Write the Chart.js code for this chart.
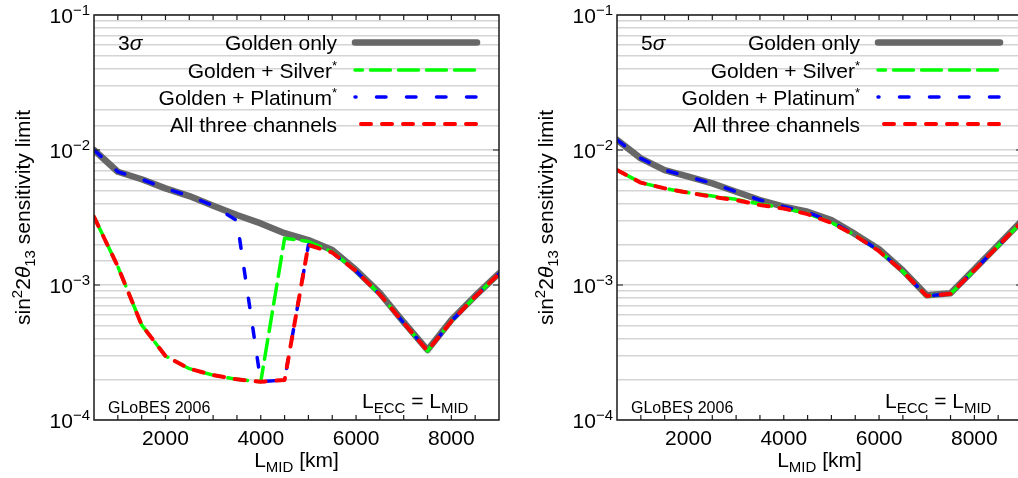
<!DOCTYPE html>
<html><head><meta charset="utf-8">
<script src="https://cdn.jsdelivr.net/npm/chart.js@4"></script>
<style>
html,body{margin:0;padding:0;background:#fff;overflow:hidden;width:1018px;height:478px}
#wrap{position:relative;width:1018px;height:478px;overflow:hidden;background:#fff}
canvas{position:absolute;top:0}
#c1{left:0}
#c2{left:523px}
</style></head><body>
<div id="wrap"><canvas id="c1" width="510" height="478"></canvas><canvas id="c2" width="510" height="478"></canvas></div>
<script>
// ---- data ----
const baselineKm = [500,1000,1500,2000,2500,3000,3500,4000,4500,5000,5500,6000,6500,7000,7500,8000,8500,9000];
const xTickLabels = [2000,4000,6000,8000];
const yTickDecades = [-4,-3,-2,-1];
const seriesNames = ['Golden only','Golden + Silver','Golden + Platinum','All three channels'];

// 3 sigma panel
const golden3   = [1.0e-2,6.9e-3,6.07e-3,5.2e-3,4.56e-3,3.87e-3,3.3e-3,2.86e-3,2.42e-3,2.15e-3,1.82e-3,1.29e-3,8.7e-4,5.3e-4,3.3e-4,5.5e-4,8.3e-4,1.22e-3];
const silver3   = [3.2e-3,1.37e-3,5.06e-4,2.98e-4,2.4e-4,2.15e-4,2.0e-4,1.92e-4,2.22e-3,2.1e-3,1.76e-3,1.27e-3,8.5e-4,5.25e-4,3.25e-4,5.4e-4,8.2e-4,1.21e-3];
const platinum3 = [1.0e-2,6.9e-3,6.07e-3,5.2e-3,4.56e-3,3.87e-3,3.0e-3,1.92e-4,1.98e-4,1.98e-3,1.74e-3,1.27e-3,8.5e-4,5.25e-4,3.25e-4,5.4e-4,8.2e-4,1.21e-3];
const allThree3 = [3.2e-3,1.37e-3,5.06e-4,2.98e-4,2.4e-4,2.15e-4,2.0e-4,1.92e-4,1.98e-4,1.98e-3,1.74e-3,1.27e-3,8.5e-4,5.25e-4,3.25e-4,5.4e-4,8.2e-4,1.21e-3];

// 5 sigma panel
const golden5   = [1.19e-2,8.67e-3,7.1e-3,6.34e-3,5.66e-3,4.91e-3,4.26e-3,3.8e-3,3.49e-3,3.03e-3,2.38e-3,1.84e-3,1.28e-3,8.4e-4,8.7e-4,1.31e-3,1.98e-3,3.0e-3];
const silver5   = [7.1e-3,5.73e-3,5.2e-3,4.83e-3,4.56e-3,4.31e-3,3.98e-3,3.72e-3,3.38e-3,2.9e-3,2.34e-3,1.8e-3,1.26e-3,8.3e-4,8.6e-4,1.29e-3,1.95e-3,2.95e-3];
const platinum5 = [1.19e-2,8.67e-3,7.1e-3,6.34e-3,5.66e-3,4.91e-3,4.26e-3,3.8e-3,3.45e-3,2.95e-3,2.34e-3,1.8e-3,1.26e-3,8.3e-4,8.6e-4,1.29e-3,1.95e-3,2.95e-3];
const allThree5 = [7.1e-3,5.73e-3,5.2e-3,4.83e-3,4.5e-3,4.25e-3,3.92e-3,3.68e-3,3.35e-3,2.88e-3,2.33e-3,1.78e-3,1.26e-3,8.3e-4,8.6e-4,1.29e-3,1.95e-3,2.95e-3];

const FONT = '"Liberation Sans", Arial, Helvetica, sans-serif';

function styleFor(i){
  return [
    {borderColor:'#676767', borderWidth:6.5, borderDash:[], legendOffset:0, order:4},
    {borderColor:'#00ff00', borderWidth:3.5, borderDash:[20,8], legendOffset:12.5, order:3},
    {borderColor:'#0000ff', borderWidth:3.5, borderDash:[9.5,20.5], legendOffset:8.5, order:2},
    {borderColor:'#ff0000', borderWidth:4,   borderDash:[10,11], legendOffset:-3, order:1}
  ][i];
}

function font(sz, italic){ return (italic?'italic ':'') + sz + 'px ' + FONT; }

// text runs: [text, size, baseline shift, italic]
function runsWidth(ctx, runs){
  let w=0; for(const r of runs){ctx.font=font(r[1],r[3]); w+=ctx.measureText(r[0]).width;} return w;
}
function drawRuns(ctx, runs, x, y){
  for(const r of runs){ctx.font=font(r[1],r[3]); ctx.fillText(r[0], x, y + (r[2]||0)); x += ctx.measureText(r[0]).width;}
  return x;
}

const decorPlugin = {
  id:'decor',
  afterDatasetsDraw(chart){
    const ctx = chart.ctx, a = chart.chartArea, xs = chart.scales.x, ys = chart.scales.y;
    const o = chart.options.plugins.decor;
    ctx.save();
    // frame
    ctx.strokeStyle = '#1a1a1a'; ctx.lineWidth = 1.5;
    ctx.strokeRect(a.left, a.top, a.right - a.left, a.bottom - a.top);
    // inner ticks
    ctx.lineWidth = 1.2;
    ctx.beginPath();
    for(const t of xs.ticks){
      const px = xs.getPixelForValue(t.value);
      if(px <= a.left+1 || px >= a.right-1) continue;
      ctx.moveTo(px, a.bottom); ctx.lineTo(px, a.bottom-5);
      ctx.moveTo(px, a.top); ctx.lineTo(px, a.top+5);
    }
    for(const d of yTickDecades){
      const py = ys.getPixelForValue(Math.pow(10,d));
      if(py <= a.top+1 || py >= a.bottom-1) continue;
      ctx.moveTo(a.left, py); ctx.lineTo(a.left+6, py);
      ctx.moveTo(a.right, py); ctx.lineTo(a.right-6, py);
    }
    ctx.stroke();

    ctx.fillStyle = '#000';
    ctx.textBaseline = 'alphabetic';
    // x tick labels
    ctx.textAlign = 'center';
    ctx.font = font(21);
    for(const v of xTickLabels){
      ctx.fillText(String(v), xs.getPixelForValue(v), 445);
    }
    // y tick labels 10^k
    ctx.textAlign = 'left';
    for(const d of yTickDecades){
      const py = ys.getPixelForValue(Math.pow(10,d));
      const runs = [['10',21,0],['\u2212'+Math.abs(d),15,-8]];
      const w = runsWidth(ctx, runs);
      drawRuns(ctx, runs, 90 - w, py + 7.5);
    }
    // x axis title
    {
      const runs = [['L',21,0],['MID',15,5],[' [km]',21,0]];
      const w = runsWidth(ctx, runs);
      drawRuns(ctx, runs, (a.left + a.right)/2 - w/2, 467);
    }
    // y axis title (rotated)
    {
      ctx.save();
      ctx.translate(30, (a.top + a.bottom)/2);
      ctx.rotate(-Math.PI/2);
      const runs = [['sin',21,0],['2',15,-8],['2',21,0],['\u03B8',21,0,true],['13',15,5],[' sensitivity limit',21,0]];
      const w = runsWidth(ctx, runs);
      drawRuns(ctx, runs, -w/2, 0);
      ctx.restore();
    }
    // annotations
    ctx.font = font(16);
    ctx.fillText('GLoBES 2006', a.left + 14, 413);
    drawRuns(ctx, [['L',21,0],['ECC',15,5],[' = L',21,0],['MID',15,5]], a.left + 268, 408);
    drawRuns(ctx, [[o.sigmaNum,21,0],['\u03C3',21,0,true]], a.left + 24, 50);

    // legend
    const rows = [42.5, 70, 97, 124];
    const textRight = a.left + 243, lineL = a.left + 261, lineR = a.left + 383;
    chart.data.datasets.forEach((ds, i) => {
      const y = rows[i];
      const runs = [[ds.label,21,0]];
      if(ds.starred) runs.push(['*',13,-8]);
      const w = runsWidth(ctx, runs);
      drawRuns(ctx, runs, textRight - w, y + 7.5);
      const st = styleFor(i);
      ctx.save();
      ctx.strokeStyle = ds.borderColor; ctx.lineWidth = ds.borderWidth;
      ctx.lineCap = 'round';
      ctx.setLineDash(ds.borderDash);
      ctx.lineDashOffset = st.legendOffset;
      ctx.beginPath();
      ctx.moveTo(i===3 ? lineL+3 : lineL, y); ctx.lineTo(lineR, y);
      ctx.stroke();
      ctx.restore();
    });
    ctx.restore();
  }
};

function makeChart(id, sigmaNum, arrs){
  const datasets = arrs.map((arr, i) => {
    const st = styleFor(i);
    return {
      label: seriesNames[i],
      starred: i===1 || i===2,
      data: baselineKm.map((x, k) => ({x, y: arr[k]})),
      borderColor: st.borderColor, borderWidth: st.borderWidth, borderDash: st.borderDash,
      borderCapStyle: 'round', borderJoinStyle: 'round',
      pointRadius: 0, tension: 0, fill: false, order: st.order
    };
  });
  return new Chart(document.getElementById(id), {
    type: 'line',
    data: { datasets },
    plugins: [decorPlugin],
    options: {
      responsive: false, animation: false, devicePixelRatio: 1,
      layout: { padding: { left: 0, right: 11, top: 15, bottom: 0 } },
      plugins: { legend: { display: false }, tooltip: { enabled: false }, decor: { sigmaNum } },
      scales: {
        x: { type: 'linear', min: 500, max: 9000,
             ticks: { display: false, stepSize: 500, autoSkip: false },
             grid: { display: false }, border: { display: false },
             afterFit(s){ s.height = 58; } },
        y: { type: 'logarithmic', min: 1e-4, max: 1e-1,
             ticks: { display: false, autoSkip: false },
             grid: { color: '#d4d4d4', lineWidth: 1.5, drawTicks: false }, border: { display: false },
             afterFit(s){ s.width = 94; } }
      }
    }
  });
}

makeChart('c1', '3', [golden3, silver3, platinum3, allThree3]);
makeChart('c2', '5', [golden5, silver5, platinum5, allThree5]);
</script>
</body></html>
